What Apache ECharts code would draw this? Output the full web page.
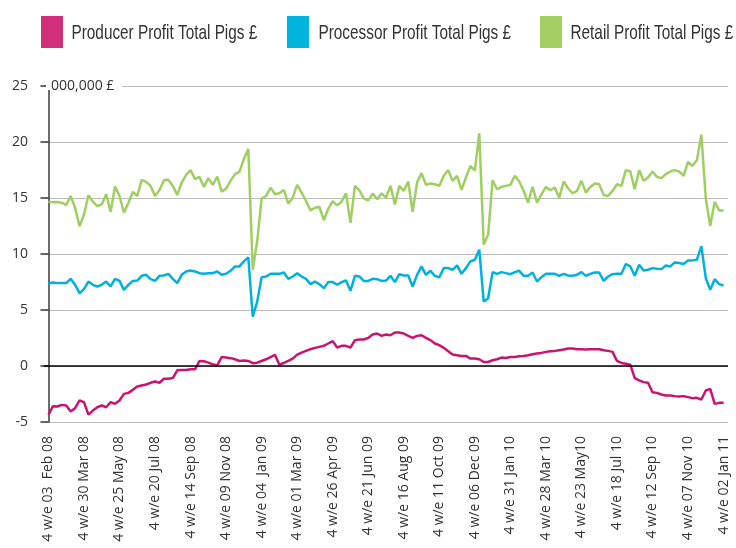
<!DOCTYPE html>
<html><head><meta charset="utf-8">
<script src="https://cdn.jsdelivr.net/npm/echarts@6/dist/echarts.min.js"></script>
<style>html,body{margin:0;padding:0;background:#fff}#c{width:736px;height:548px}</style>
</head><body><div id="c"></div>
<script>
const seriesNames = ["Producer Profit Total Pigs £", "Processor Profit Total Pigs £", "Retail Profit Total Pigs £"];
const tickWeeks = [0, 8, 16, 24, 32, 40, 48, 56, 64, 72, 80, 88, 96, 104, 112, 120, 128, 136, 144, 152];
const tickLabels = ["4 w/e 03  Feb 08", "4 w/e 30 Mar 08", "4 w/e 25 May 08", "4 w/e 20 Jul 08", "4 w/e 14 Sep 08",
  "4 w/e 09 Nov 08", "4 w/e 04  Jan 09", "4 w/e 01 Mar 09", "4 w/e 26 Apr 09", "4 w/e 21 Jun 09",
  "4 w/e 16 Aug 09", "4 w/e 11 Oct 09", "4 w/e 06 Dec 09", "4 w/e 31 Jan 10", "4 w/e 28 Mar 10",
  "4 w/e 23 May10", "4 w/e 18 Jul 10", "4 w/e 12 Sep 10", "4 w/e 07 Nov 10", "4 w/e 02 Jan 11"];

const producer = [
  -4.37, -3.59, -3.62, -3.47, -3.53, -4.07, -3.77, -3.08, -3.23, -4.34,
  -3.98, -3.68, -3.53, -3.68, -3.23, -3.38, -3.08, -2.49, -2.40, -2.13,
  -1.83, -1.74, -1.65, -1.50, -1.38, -1.50, -1.14, -1.14, -1.08, -0.39,
  -0.36, -0.36, -0.30, -0.30, 0.45, 0.42, 0.30, 0.15, 0.05, 0.80,
  0.75, 0.70, 0.60, 0.45, 0.50, 0.45, 0.25, 0.30, 0.45, 0.60,
  0.80, 1.00,
  0.12, 0.27, 0.45, 0.66, 1.02, 1.20, 1.35, 1.50, 1.62, 1.71,
  1.80, 2.01, 2.22, 1.65, 1.80, 1.80, 1.65, 2.31, 2.37, 2.37,
  2.51, 2.81, 2.90, 2.69, 2.81, 2.75, 2.99, 2.99, 2.90, 2.69,
  2.51, 2.69, 2.75, 2.51, 2.31, 2.01, 1.86, 1.62, 1.32, 1.02,
  0.96, 0.90, 0.90, 0.66, 0.66, 0.60, 0.36, 0.36, 0.51, 0.60,
  0.75,
  0.72, 0.81, 0.81, 0.87, 0.90, 0.96, 1.05, 1.11, 1.17, 1.26,
  1.32, 1.35, 1.41, 1.47, 1.56, 1.56, 1.50, 1.50, 1.47, 1.50,
  1.50, 1.50, 1.41, 1.35, 1.26, 0.45, 0.27, 0.21, 0.12, -1.08,
  -1.29, -1.44, -1.50, -2.34, -2.40, -2.54, -2.63, -2.63, -2.69, -2.72,
  -2.69, -2.78, -2.87, -2.84, -2.99, -2.19, -2.04, -3.38, -3.29, -3.29
];
const processor = [
  7.34, 7.46, 7.40, 7.40, 7.40, 7.78, 7.25, 6.50, 6.86, 7.54,
  7.25, 7.10, 7.25, 7.54, 7.10, 7.78, 7.60, 6.80, 7.25, 7.60,
  7.63, 8.05, 8.14, 7.75, 7.60, 8.05, 8.08, 8.23, 7.78, 7.40,
  8.14, 8.44, 8.53, 8.44, 8.29, 8.23, 8.29, 8.29, 8.44, 8.14,
  8.23, 8.50, 8.89, 8.89, 9.34, 9.70, 4.40, 5.75, 7.93, 7.99,
  8.23, 8.23,
  8.23, 8.35, 7.78, 7.99, 8.29, 7.99, 7.78, 7.31, 7.54, 7.31,
  6.95, 7.49, 7.49, 7.25, 7.49, 7.63, 6.71, 8.05, 7.99, 7.60,
  7.60, 7.78, 7.75, 7.60, 7.63, 8.05, 7.49, 8.20, 8.08, 8.08,
  7.10, 8.14, 8.89, 8.14, 8.50, 8.05, 7.93, 8.74, 8.74, 8.59,
  8.98, 8.23, 8.74, 9.34, 9.49, 10.39, 5.75, 6.05, 8.38, 8.23,
  8.38,
  8.29, 8.20, 8.38, 8.50, 8.05, 8.05, 8.35, 7.54, 7.93, 8.23,
  8.23, 8.23, 8.05, 8.23, 8.08, 8.05, 8.14, 8.38, 8.05, 8.23,
  8.35, 8.35, 7.60, 7.99, 8.20, 8.23, 8.23, 9.10, 8.89, 8.05,
  9.04, 8.53, 8.59, 8.74, 8.68, 8.65, 8.98, 8.89, 9.25, 9.19,
  9.10, 9.43, 9.43, 9.49, 10.69, 7.84, 6.80, 7.75, 7.31, 7.19
];
const retail = [
  14.67, 14.61, 14.64, 14.58, 14.37, 15.18, 14.13, 12.49, 13.53, 15.24,
  14.67, 14.28, 14.43, 15.33, 13.77, 16.02, 15.18, 13.68, 14.58, 15.54,
  15.18, 16.62, 16.44, 16.08, 15.18, 15.72, 16.59, 16.62, 16.08, 15.27,
  16.38, 17.07, 17.49, 16.68, 16.89, 15.99, 16.77, 16.17, 16.92, 15.57,
  15.84, 16.53, 17.13, 17.34, 18.47, 19.37, 8.59, 11.14, 14.94, 15.18,
  15.93, 15.33,
  15.42, 15.72, 14.49, 15.03, 16.17, 15.48, 14.73, 13.89, 14.13, 14.22,
  13.02, 14.04, 14.73, 14.34, 14.67, 15.42, 12.78, 16.08, 15.69, 14.94,
  14.79, 15.39, 14.88, 15.42, 15.03, 16.08, 14.43, 16.08, 15.63, 16.47,
  13.77, 16.38, 17.22, 16.17, 16.29, 16.23, 16.08, 16.98, 17.49, 16.53,
  16.98, 15.72, 16.83, 17.87, 17.43, 20.78, 10.84, 11.74, 16.59, 15.78,
  15.99,
  16.08, 16.17, 16.98, 16.47, 15.63, 14.58, 15.99, 14.58, 15.33,
  15.99, 15.69, 15.93, 15.03, 16.47, 15.87, 15.42, 15.63, 16.53, 15.48,
  15.99, 16.29, 16.23, 15.27, 15.18, 15.63, 16.23, 16.08, 17.49, 17.37,
  15.78, 17.49, 16.53, 16.83, 17.37, 16.89, 16.77, 17.13, 17.37, 17.49,
  17.37, 16.98, 18.23, 17.87, 18.38, 20.66, 14.97, 12.49, 14.67, 13.89,
  13.89
];
const lineColors = ["#cc1170", "#00b1dd", "#9fcf62"];
const legendColors = ["#d22f7b", "#00b4de", "#a1cf64"];

const chart = echarts.init(document.getElementById('c'), null, {renderer: 'canvas'});
const legendLeft = [41, 287, 540];
const legendTextLeft = [71.5, 318.5, 570.5];
const textCol = '#333333';
const opt = {
  animation: false,
  backgroundColor: '#ffffff',
  legend: seriesNames.map((n, i) => ({
    left: legendLeft[i], top: 16, padding: 0,
    itemWidth: 22, itemHeight: 32, icon: 'rect', selectedMode: false,
    formatter: () => '',
    data: [{name: n, itemStyle: {color: legendColors[i]}}]
  })),
  grid: {left: 44, right: 8, top: 86, bottom: 126, outerBoundsMode: 'none'},
  xAxis: {
    type: 'value', min: -1, max: 153,
    axisLine: {show: false}, axisTick: {show: false}, splitLine: {show: false},
    axisLabel: {
      customValues: tickWeeks,
      formatter: v => tickLabels[tickWeeks.indexOf(v)],
      rotate: 90, margin: 14, fontSize: 14, color: textCol,
      fontFamily: '"Open Sans", sans-serif'
    }
  },
  yAxis: {
    type: 'value', min: -5, max: 25, interval: 5,
    axisLine: {show: true, lineStyle: {color: '#3a3a3a', width: 1.5}},
    axisTick: {show: true, length: 8, lineStyle: {color: '#3a3a3a', width: 1.5}},
    axisLabel: {margin: 16, fontSize: 14, color: textCol, fontFamily: '"Open Sans", sans-serif'},
    splitLine: {show: true, lineStyle: {color: '#bdbdbd', width: 1}}
  },
  graphic: [
    {type: 'rect', z: 100, shape: {x: 46, y: 83, width: 76, height: 7}, style: {fill: '#ffffff'}},
    {type: 'text', z: 101, x: 51, y: 86, style: {text: '000,000 £', fill: textCol, fontSize: 14,
      fontFamily: '"Open Sans", sans-serif', verticalAlign: 'middle', align: 'left'}}
  ].concat(seriesNames.map((n, i) => ({
    type: 'text', z: 101, x: legendTextLeft[i], y: 33, scaleX: 0.73,
    style: {text: n, fill: textCol, fontSize: 21, fontFamily: '"Liberation Sans", Arial, sans-serif',
      verticalAlign: 'middle', align: 'left'}
  }))),
  series: [
    {name: seriesNames[0], type: 'line', symbol: 'none', data: producer.map((v, i) => [i, v]),
      lineStyle: {width: 2.5, color: lineColors[0]}, itemStyle: {color: lineColors[0]}, z: 3,
      markLine: {silent: true, symbol: ['none', 'none'], label: {show: false},
        lineStyle: {color: '#000', width: 1.5, type: 'solid'}, emphasis: {disabled: true},
        data: [{yAxis: 0}]}},
    {name: seriesNames[1], type: 'line', symbol: 'none', data: processor.map((v, i) => [i, v]),
      lineStyle: {width: 2.5, color: lineColors[1]}, itemStyle: {color: lineColors[1]}, z: 3},
    {name: seriesNames[2], type: 'line', symbol: 'none', data: retail.map((v, i) => [i, v]),
      lineStyle: {width: 2.5, color: lineColors[2]}, itemStyle: {color: lineColors[2]}, z: 2}
  ]
};
chart.setOption(opt);
</script>
</body></html>
